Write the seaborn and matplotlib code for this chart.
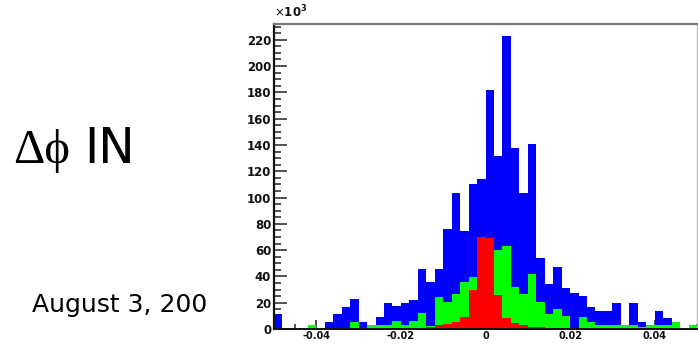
import numpy as np
import pandas as pd
import matplotlib
matplotlib.use("Agg")
import matplotlib.pyplot as plt
from matplotlib.ticker import MultipleLocator, FixedLocator
import seaborn as sns

# 50 bins of 0.002 from -0.05 to 0.05, counts in thousands
x_range = (-0.05, 0.05)
n_bins = 50
bin_edges = np.linspace(x_range[0], x_range[1], n_bins + 1)
bin_centers = (bin_edges[:-1] + bin_edges[1:]) / 2

blue_counts = [11.5, 0, 0, 0, 3, 0, 5.6, 11.4, 16.5, 22.6,
               5.6, 3, 9, 19.5, 17.5, 19.5, 22.4, 45.4, 36, 45.8,
               75.8, 103.8, 74.5, 110.4, 114.2, 182, 131.5, 222.5, 137.5, 103.2,
               140.8, 54.3, 34, 47.4, 31, 27.1, 25.4, 16.5, 14, 14,
               19.5, 3, 19.5, 5.6, 3, 14, 8.6, 5.6, 0, 3]
green_counts = [0, 0, 0, 0, 3, 0, 0, 0, 0, 5.6,
                0, 3, 3, 3, 6, 3, 6, 12, 2, 24.6,
                20.8, 27, 36, 39.3, 50, 55, 60, 63, 32.2, 26.6,
                41.6, 20.8, 11.4, 15, 9.9, 0.8, 9.4, 5.6, 3, 3,
                3, 3, 3, 1.5, 3, 3, 3, 5.6, 0, 3]
red_counts = [0.6, 0.6, 0.6, 0.6, 0.6, 0.6, 0.6, 0.6, 0.6, 0.6,
              0.6, 0.6, 0.6, 0.6, 0.8, 0.8, 1, 1, 1.5, 3,
              3.8, 5.6, 8.9, 29.7, 69.8, 69, 25.9, 8.1, 4.3, 3,
              1.8, 1.8, 1, 1, 0.8, 0.6, 0.6, 0.6, 0.6, 0.6,
              0.6, 0.6, 0.6, 0.6, 0.6, 0.6, 0.6, 0.6, 0.6, 0.6]

x_ticks = [-0.04, -0.02, 0, 0.02, 0.04]
x_tick_labels = ["-0.04", "-0.02", "0", "0.02", "0.04"]

sns.set_style("white")
plt.rcParams['font.family'] = ['DejaVu Sans']

fig = plt.figure(figsize=(6.98, 3.44), dpi=100)
ax = fig.add_axes([274 / 698, 15 / 344, 423 / 698, 305 / 344])

for counts, color in [(blue_counts, "#0000ff"), (green_counts, "#00ff00"), (red_counts, "#ff0000")]:
    df = pd.DataFrame({"dphi": bin_centers, "count": counts})
    sns.histplot(data=df, x="dphi", weights="count", bins=n_bins, binrange=x_range,
                 element="step", fill=True, color=color, alpha=1, linewidth=0, ax=ax)

ax.set_xlim(*x_range)
ax.set_ylim(0, 232)
ax.set_xlabel("")
ax.set_ylabel("")

ax.xaxis.set_major_locator(FixedLocator(x_ticks))
ax.set_xticklabels(x_tick_labels)
ax.xaxis.set_minor_locator(MultipleLocator(0.005))
ax.yaxis.set_major_locator(MultipleLocator(20))
ax.yaxis.set_minor_locator(MultipleLocator(5))

ax.tick_params(axis="both", which="both", direction="in", colors="#222222", width=1.1)
ax.tick_params(axis="y", which="major", length=9.5, pad=2, labelsize=8.5)
ax.tick_params(axis="y", which="minor", length=5)
ax.tick_params(axis="x", which="major", length=6.5, pad=1.5, labelsize=7)
ax.tick_params(axis="x", which="minor", length=3.5)
ax.tick_params(bottom=True, left=True, top=False, right=False, which="both")
for lbl in ax.get_xticklabels() + ax.get_yticklabels():
    lbl.set_fontweight("bold")
    lbl.set_color("#111111")

ax.spines["left"].set_color("#111111")
ax.spines["left"].set_linewidth(1.6)
ax.spines["bottom"].set_color("#111111")
ax.spines["bottom"].set_linewidth(1.4)
ax.spines["top"].set_color("#777777")
ax.spines["top"].set_linewidth(1.6)
ax.spines["right"].set_color("#bbbbbb")
ax.spines["right"].set_linewidth(1.0)

ax.text(0, 1.012, r"$\times\mathbf{10^{3}}$", transform=ax.transAxes,
        fontsize=8.5, color="#111111", ha="left", va="bottom")

fig.text(13 / 698, 1 - 163 / 344, "\u0394\u03d5", family=["Liberation Serif", "DejaVu Serif"],
         fontsize=35, ha="left", va="baseline", color="black")
fig.text(84 / 698, 1 - 163 / 344, "IN", fontsize=35, ha="left", va="baseline", color="black")
fig.text(32 / 698, 1 - 312 / 344, "August 3, 200", fontsize=18, ha="left", va="baseline",
         color="black")

fig.savefig("out.png", dpi=100, facecolor="white")
